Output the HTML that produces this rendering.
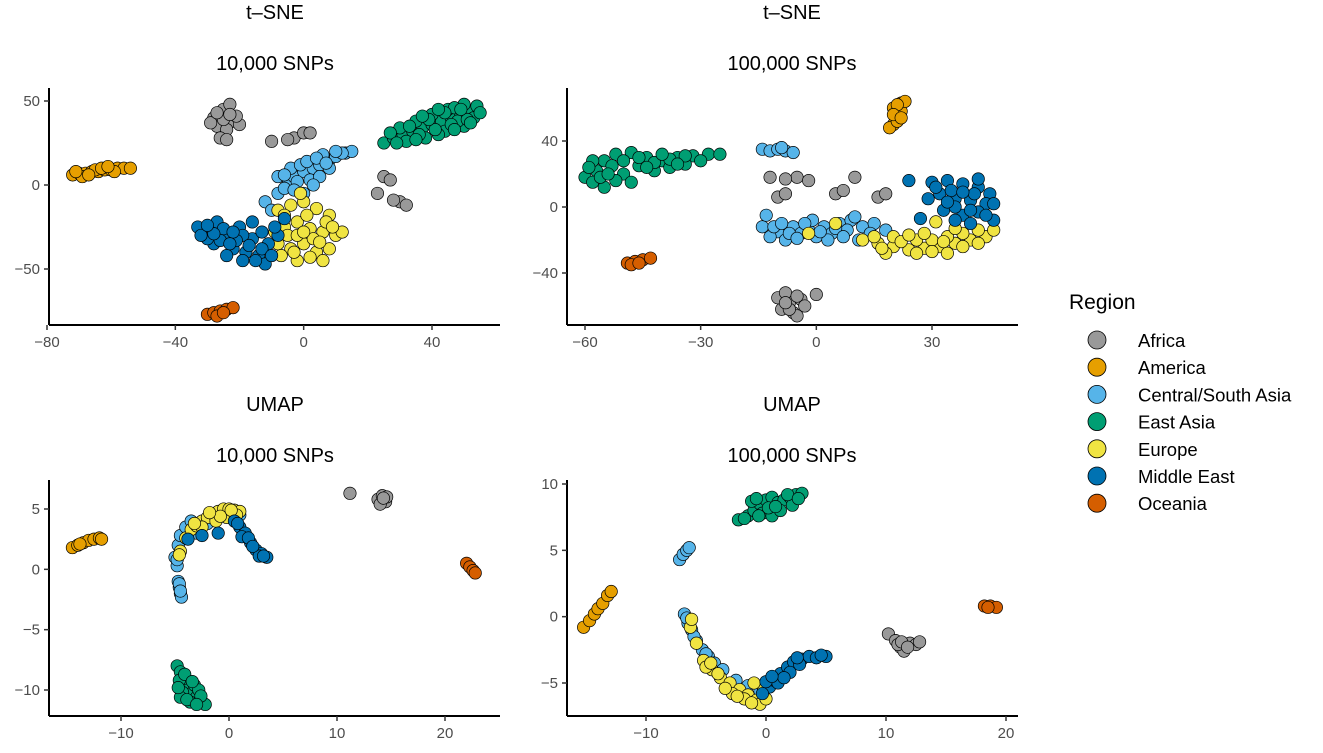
<!DOCTYPE html>
<html><head><meta charset="utf-8"><style>
body{margin:0;background:#fff}
svg text{font-family:"Liberation Sans",sans-serif}
</style></head><body>
<svg id="chart" width="1323" height="748" viewBox="0 0 1323 748" xmlns="http://www.w3.org/2000/svg"></svg>
<script>
const regions = ["Africa","America","Central/South Asia","East Asia","Europe","Middle East","Oceania"];
const colors = ["#999999","#E69F00","#56B4E9","#009E73","#F0E442","#0072B2","#D55E00"];

// Panel 1: t-SNE 10,000 SNPs
const p1Africa = [[-28,40],[-25,45],[-22,38],[-27,35],[-24,33],[-20,36],[-29,37],[-23,48],[-26,28],[-24,27],[-21,41],[-25,39],[-23,42],[-27,43],[-3,28],[-5,27],[0,31],[2,31],[-10,26],[25,5],[27,3],[23,-5],[30,-10],[32,-12],[28,-9]];
const p1America = [[-72,6],[-70,7],[-68,7],[-66,8],[-64,8],[-62,9],[-60,9],[-58,10],[-56,10],[-54,10],[-69,5],[-65,9],[-71,8],[-67,6],[-63,10],[-59,8],[-61,11]];
const p1CSA = [[-12,-10],[-8,-5],[-5,0],[-3,5],[-8,5],[0,8],[3,10],[5,12],[8,15],[10,17],[13,19],[15,20],[-2,2],[2,3],[-6,-2],[5,5],[-10,-15],[0,-5],[3,0],[8,10],[-4,10],[6,18],[12,19],[-1,12],[1,14],[4,16],[-6,6],[10,20],[7,13],[-3,-3]];
const p1EastAsia = [[25,25],[28,28],[31,30],[34,32],[37,34],[40,36],[43,38],[46,40],[49,42],[52,44],[54,47],[50,48],[45,45],[40,42],[35,38],[30,34],[38,28],[44,32],[50,35],[53,40],[32,26],[47,46],[42,30],[48,38],[27,31],[36,30],[41,33],[46,36],[51,39],[33,35],[39,39],[44,43],[49,45],[29,25],[35,27],[55,43],[42,45],[47,33],[52,37],[37,41]];
const p1Europe = [[-8,-15],[-4,-12],[0,-10],[4,-14],[8,-18],[-6,-25],[-2,-22],[2,-26],[6,-28],[10,-30],[-8,-35],[-4,-38],[0,-35],[4,-40],[8,-38],[-2,-45],[3,-32],[-5,-30],[7,-22],[12,-28],[-1,-5],[-7,-42],[-2,-30],[1,-18],[5,-34],[-6,-18],[9,-25],[-3,-40],[2,-43],[6,-45],[-9,-28],[0,-28]];
const p1MiddleEast = [[-33,-25],[-30,-28],[-27,-22],[-24,-30],[-20,-25],[-16,-32],[-13,-28],[-28,-35],[-22,-38],[-18,-40],[-14,-42],[-30,-32],[-25,-26],[-11,-35],[-8,-30],[-19,-30],[-24,-42],[-12,-47],[-32,-30],[-16,-22],[-6,-20],[-9,-25],[-26,-33],[-21,-33],[-17,-36],[-13,-38],[-22,-28],[-28,-29],[-15,-45],[-10,-42],[-19,-45],[-30,-24],[-23,-35]];
const p1Oceania = [[-30,-77],[-28,-76],[-26,-75],[-24,-74],[-22,-73],[-27,-78],[-25,-76]];

// Panel 2: t-SNE 100,000 SNPs
const p2Africa = [[-10,6],[-8,8],[-5,18],[-2,16],[5,8],[7,10],[10,18],[16,6],[18,8],[-12,18],[-8,17],[-10,-55],[-7,-58],[-4,-56],[-9,-62],[-6,-64],[-3,-60],[-8,-52],[-5,-66],[0,-53],[-7,-62],[-5,-54],[-8,-58]];
const p2America = [[20,60],[22,63],[21,55],[20,50],[19,48],[22,58],[23,64],[21,52],[21,62],[20,56],[22,54]];
const p2CSA = [[-14,35],[-12,34],[-10,35],[-8,34],[-6,33],[-9,36],[-14,-12],[-10,-15],[-6,-12],[-2,-14],[2,-12],[6,-10],[9,-8],[-12,-18],[-8,-20],[-4,-16],[0,-18],[4,-16],[8,-14],[12,-12],[15,-10],[-1,-8],[3,-20],[11,-20],[14,-16],[-13,-5],[10,-6],[18,-14],[-11,-12],[-7,-16],[-3,-10],[1,-15],[5,-13],[7,-18],[-5,-19],[-9,-10]];
const p2EastAsia = [[-60,18],[-57,22],[-55,28],[-52,32],[-48,33],[-44,30],[-40,28],[-36,30],[-32,31],[-28,32],[-25,32],[-58,15],[-55,12],[-50,20],[-46,25],[-42,22],[-38,24],[-34,26],[-30,28],[-53,25],[-48,15],[-58,28],[-56,18],[-52,16],[-50,28],[-46,30],[-42,27],[-38,29],[-34,31],[-44,24],[-54,20],[-59,24],[-40,32],[-36,26]];
const p2Europe = [[12,-20],[16,-22],[20,-24],[24,-26],[28,-25],[32,-24],[36,-22],[40,-20],[44,-18],[46,-14],[15,-18],[20,-18],[26,-20],[30,-20],[34,-18],[38,-16],[42,-14],[18,-28],[26,-28],[34,-28],[28,-16],[31,-9],[5,-10],[-2,-16],[22,-21],[30,-27],[38,-24],[42,-22],[24,-17],[36,-13],[17,-25],[33,-21]];
const p2MiddleEast = [[30,15],[34,16],[38,14],[42,12],[45,8],[32,8],[36,5],[40,4],[44,2],[33,-2],[38,-5],[42,-3],[46,-8],[35,10],[29,5],[27,-7],[40,-10],[24,16],[36,0],[41,8],[44,-5],[31,12],[38,9],[34,3],[46,2],[42,17],[40,-2],[36,-8]];
const p2Oceania = [[-49,-34],[-47,-33],[-45,-32],[-43,-31],[-48,-35],[-46,-34]];

// Panel 3: UMAP 10,000 SNPs
const p3Africa = [[11.2,6.3],[13.8,5.8],[14.2,6.1],[14.5,5.6],[14,5.4],[14.6,6.0],[14.3,5.9]];
const p3America = [[-14.5,1.8],[-14,2],[-13.5,2.2],[-13,2.4],[-12.5,2.5],[-12,2.6],[-11.8,2.5],[-13.8,2.1]];
const p3CSA = [[-4.7,-1],[-4.6,-1.5],[-4.5,-2],[-4.4,-2.3],[-5,1],[-4.7,2],[-4.5,2.8],[-4,3.5],[-3.5,4],[-2,3.8],[-1,4.5],[0,4.7],[1,4.5],[-3,3],[-4.8,0.3],[-4.6,-1.2],[-4.5,-1.8],[-4.8,0.8]];
const p3EastAsia = [[-4.8,-8],[-4.5,-8.5],[-4.2,-9],[-4,-9.5],[-3.8,-10],[-3.5,-10.3],[-3,-10.6],[-2.5,-11],[-2.2,-11.2],[-4.6,-9.2],[-4.3,-10.2],[-3.2,-9.6],[-2.8,-10],[-3.6,-11],[-4.5,-10.6],[-2.6,-10.5],[-4.1,-8.7],[-3.4,-9.3],[-3.9,-10.8],[-3,-11.2],[-4.7,-9.8]];
const p3MiddleEast = [[0.5,4],[1,3.5],[1.5,3],[2,2.2],[2.5,1.6],[3,1.3],[3.5,1],[-1,3],[-3.8,2.5],[-2.5,2.8],[1.2,2.7],[2.8,1.1],[0.8,3.8],[1.8,2.6],[2.2,1.9],[3.2,1.1]];
const p3Europe = [[-4.5,1.5],[-4,2.6],[-3.5,3.3],[-3,3.6],[-2.5,4],[-2,4.3],[-1.5,4.6],[-1,4.8],[-0.5,5],[0,5],[0.5,4.9],[1,4.8],[-1.2,4],[-0.2,4.3],[-2.5,3.5],[-0.8,4.4],[0.7,4.5],[-4.6,1.2],[-3.2,3.8],[-1.8,4.7],[0.2,4.9]];
const p3Oceania = [[22,0.5],[22.3,0.2],[22.6,-0.1],[22.8,-0.3]];

// Panel 4: UMAP 100,000 SNPs
const p4Africa = [[10.2,-1.3],[10.8,-1.8],[11.2,-2.3],[11.5,-2.6],[12,-2],[12.5,-2.1],[11,-2.1],[12.8,-1.9],[11.3,-1.9],[11.8,-2.3]];
const p4America = [[-15.2,-0.8],[-14.7,-0.3],[-14.3,0.2],[-14,0.6],[-13.6,1],[-13.2,1.6],[-12.9,1.9]];
const p4CSA = [[-7.2,4.3],[-6.9,4.7],[-6.6,5],[-6.4,5.2],[-6.8,0.2],[-6.5,-0.5],[-6.2,-1],[-5.8,-1.8],[-5.3,-2.5],[-4.8,-3],[-4.3,-3.5],[-3.6,-4],[-6.6,-0.1],[-6,-1.5],[-5,-2.8],[-2.5,-4.8],[-1.5,-5.2],[-0.5,-5.6]];
const p4EastAsia = [[-2.3,7.3],[-1.5,7.6],[-1,8],[-0.5,8.5],[0,8.8],[0.5,9],[1,8.6],[1.5,8.8],[2,9],[2.5,9.2],[3,9.3],[-0.3,7.8],[0.5,7.6],[1.2,8],[-1.2,8.7],[2.2,8.4],[0.2,8.2],[-0.8,8.9],[-1.8,7.4],[0.8,8.3],[1.8,9.2],[-0.6,7.6],[2.7,8.9]];
const p4Europe = [[-6.3,-0.8],[-5.8,-2],[-5.2,-3.3],[-4.5,-4],[-3.8,-4.6],[-3,-5],[-2.2,-5.5],[-1.5,-5.9],[-0.8,-6.3],[-0.5,-6.6],[0,-6.2],[-0.2,-5.5],[-1,-5],[-4,-4.3],[-2.8,-5.8],[-1.8,-6.2],[-6.2,-0.2],[-5,-3.8],[-3.4,-5.4],[-2.4,-6],[-1.2,-6.5],[-4.6,-3.5]];
const p4MiddleEast = [[0.3,-5.3],[0.7,-4.8],[1.2,-4.3],[1.8,-3.8],[2.3,-3.4],[3,-3.2],[3.6,-3],[4.2,-3.1],[5,-3],[1,-5],[2,-4.2],[2.8,-3.6],[0,-4.9],[-0.3,-5.8],[1.5,-4.6],[2.6,-3.1],[4.6,-2.9],[0.5,-4.5]];
const p4Oceania = [[18.2,0.8],[18.7,0.8],[19.2,0.7],[18.5,0.7]];

const p1XTicks = [-80,-40,0,40], p1YTicks = [50,0,-50];
const p2XTicks = [-60,-30,0,30], p2YTicks = [40,0,-40];
const p3XTicks = [-10,0,10,20], p3YTicks = [5,0,-5,-10];
const p4XTicks = [-10,0,10,20], p4YTicks = [10,5,0,-5];

const NS = "http://www.w3.org/2000/svg";
const svg = document.getElementById("chart");
function mk(tag, attrs, parent){const e=document.createElementNS(NS,tag);for(const k in attrs)e.setAttribute(k,attrs[k]);(parent||svg).appendChild(e);return e;}
function lin(d0,d1,r0,r1){return v=>r0+(v-d0)*(r1-r0)/(d1-d0);}

const panels = [
 {name:"tsne-10k",title:"t–SNE",sub:"10,000 SNPs",cx:275,ty:19,sy:70,ax:49,ay:325,axEnd:500,ayTop:88,
  x:lin(-80,40,47,432),y:lin(50,-50,101,269),xt:p1XTicks,yt:p1YTicks,
  series:[p1Africa,p1America,p1CSA,p1EastAsia,p1Europe,p1MiddleEast,p1Oceania]},
 {name:"tsne-100k",title:"t–SNE",sub:"100,000 SNPs",cx:792,ty:19,sy:70,ax:567,ay:325,axEnd:1018,ayTop:88,
  x:lin(-60,30,585,932),y:lin(40,-40,141,273),xt:p2XTicks,yt:p2YTicks,
  series:[p2Africa,p2America,p2CSA,p2EastAsia,p2Europe,p2MiddleEast,p2Oceania]},
 {name:"umap-10k",title:"UMAP",sub:"10,000 SNPs",cx:275,ty:411,sy:462,ax:49,ay:716,axEnd:500,ayTop:480,
  x:lin(-10,20,121,445),y:lin(5,-10,509,690),xt:p3XTicks,yt:p3YTicks,
  series:[p3Africa,p3America,p3CSA,p3EastAsia,p3Europe,p3MiddleEast,p3Oceania]},
 {name:"umap-100k",title:"UMAP",sub:"100,000 SNPs",cx:792,ty:411,sy:462,ax:567,ay:716,axEnd:1018,ayTop:480,
  x:lin(-10,20,646,1006),y:lin(10,-5,484,683),xt:p4XTicks,yt:p4YTicks,
  series:[p4Africa,p4America,p4CSA,p4EastAsia,p4Europe,p4MiddleEast,p4Oceania]}
];

panels.forEach(p=>{
  const g = mk("g",{});
  
  
  const t = mk("text",{x:p.cx,y:p.ty,"text-anchor":"middle","font-size":"20",fill:"#000"},g);
  t.textContent = p.title;
  
  
  const s = mk("text",{x:p.cx,y:p.sy,"text-anchor":"middle","font-size":"20",fill:"#000"},g);
  s.textContent = p.sub;
  
  
  p.series.forEach((pts,i)=>{
    pts.forEach(pt=>{
      const c = mk("circle",{cx:p.x(pt[0]),cy:p.y(pt[1]),r:6.2,fill:colors[i],stroke:"#000","stroke-width":0.7},g);
      
      
    });
  });
  const xa = mk("line",{x1:p.ax,y1:p.ay,x2:p.axEnd,y2:p.ay,stroke:"#000","stroke-width":2},g);
  
  
  const ya = mk("line",{x1:p.ax,y1:p.ayTop,x2:p.ax,y2:p.ay,stroke:"#000","stroke-width":2},g);
  
  
  p.xt.forEach(v=>{
    const X = p.x(v);
    mk("line",{x1:X,y1:p.ay,x2:X,y2:p.ay+5,stroke:"#333","stroke-width":1.5},g);
    const tl = mk("text",{x:X,y:p.ay+22,"text-anchor":"middle","font-size":"15",fill:"#4d4d4d"},g);
    tl.textContent = v<0 ? "−"+Math.abs(v) : String(v);
    
    
  });
  p.yt.forEach(v=>{
    const Y = p.y(v);
    mk("line",{x1:p.ax-5,y1:Y,x2:p.ax,y2:Y,stroke:"#333","stroke-width":1.5},g);
    const tl = mk("text",{x:p.ax-9,y:Y+5,"text-anchor":"end","font-size":"15",fill:"#4d4d4d"},g);
    tl.textContent = v<0 ? "−"+Math.abs(v) : String(v);
    
    
  });
});

const lg = mk("g",{});


const lt = mk("text",{x:1069,y:309,"font-size":"21",fill:"#000"},lg);
lt.textContent = "Region";


regions.forEach((r,i)=>{
  const y = 340 + i*27.2;
  const c = mk("circle",{cx:1097,cy:y,r:9,fill:colors[i],stroke:"#000","stroke-width":0.8},lg);
  
  
  const t = mk("text",{x:1138,y:y+7,"font-size":"18.5",fill:"#000"},lg);
  t.textContent = r;
  
  
});
</script>
</body></html>
